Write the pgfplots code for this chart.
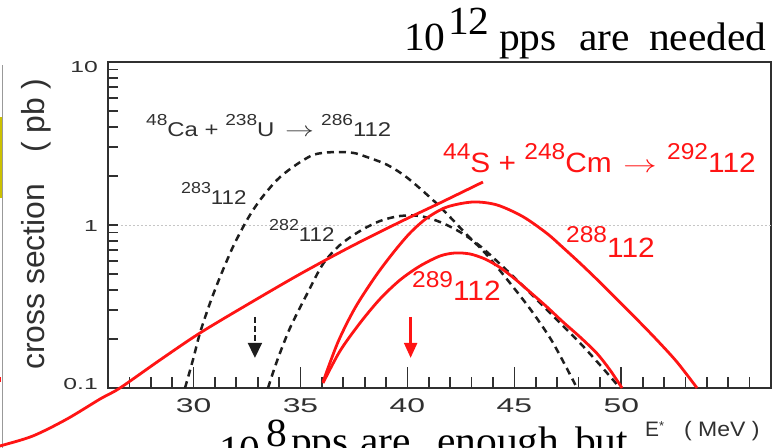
\documentclass[border=0pt]{standalone}
\usepackage{pgfplots}
\pgfplotsset{compat=1.18}
\usepackage{fontspec}
\usetikzlibrary{arrows.meta}
\setmainfont{Liberation Serif}
\newfontfamily\arial{Liberation Sans}
\definecolor{ink}{HTML}{303030}
\definecolor{dsh}{HTML}{1E1E1E}
\definecolor{lred}{HTML}{FF1414}
\newcommand{\fs}[1]{\fontsize{#1}{#1}\selectfont}
% black labels of the figure: wide sans
\newcommand{\wide}[1]{\scalebox{1.2}[1]{#1}}
\newcommand{\bsup}[1]{\raisebox{11bp}{\fs{16}#1}}
% red labels
\newcommand{\rw}[1]{\scalebox{1.07}[1]{#1}}
\newcommand{\rsup}[2]{\raisebox{#1}{\fs{23}#2}}

\begin{document}
\begin{tikzpicture}[x=1bp,y=1bp]
\path[use as bounding box] (0,0) rectangle (779,448);
\clip (0,0) rectangle (779,448);

% slide remnants at the left edge
\fill[yellow!55!olive] (0,250) rectangle (2,331);
\draw[gray!80, line width=0.8bp] (2.6,0) -- (2.6,383);
\fill[lred] (0,66) rectangle (1.2,71);

% frame and y ticks
\begin{axis}[
  at={(108bp,60bp)}, anchor=south west,
  scale only axis, width=663bp, height=326bp,
  xmin=26, xmax=57, ymode=log, ymin=0.1, ymax=10,
  axis line style={ink, line width=2.3bp},
  tick align=inside,
  xtick=\empty,
  ytick pos=left,
  ytick={0.1,1,10},
  yticklabels={\raisebox{-2bp}{\scalebox{1.55}[1]{0.1}},
               \raisebox{-7bp}{\scalebox{1.55}[1]{1}},
               \raisebox{-11bp}{\scalebox{1.55}[1]{10}}},
  minor ytick={0.2,0.3,0.4,0.5,0.6,0.7,0.8,0.9,2,3,4,5,6,7,8,9},
  major tick length=10bp, minor tick length=10bp,
  every tick/.style={ink, line width=1.7bp},
  yticklabel style={anchor=base east, inner sep=0pt, xshift=-10bp,
                    text=ink, font=\arial\fs{16}},
]
\end{axis}

% curves and x ticks
\begin{axis}[
  at={(108bp,60bp)}, anchor=south west,
  scale only axis, width=663bp, height=326bp,
  xmin=26, xmax=57, ymode=log, ymin=0.1, ymax=10,
  clip=false,
  axis line style={ink, line width=2.3bp},
  tick align=inside,
  ytick=\empty,
  xtick pos=left,
  xtick={30,35,40,45,50},
  xticklabels={\scalebox{1.6}[1]{30},\scalebox{1.6}[1]{35},\scalebox{1.6}[1]{40},
               \scalebox{1.6}[1]{45},\scalebox{1.6}[1]{50}},
  minor xtick={27,28,29,31,32,33,34,36,37,38,39,41,42,43,44,46,47,48,49,51,52,53,54,55,56},
  major tick length=21bp, minor tick length=11bp,
  every tick/.style={ink, line width=1.7bp},
  xticklabel style={anchor=center, yshift=-18bp, text=ink, font=\arial\fs{20}},
]
% 1 pb guide
\addplot[gray!45, line width=0.8bp, dash pattern=on 2bp off 2bp]
  coordinates {(26.6,1) (57,1)};

% 48Ca + 238U, 3n channel (283112)
\addplot[dsh, line width=2.5bp, dash pattern=on 7bp off 5bp, smooth] coordinates {
 (29.60,0.1) (29.97,0.1485) (30.30,0.2175) (30.77,0.332) (31.24,0.480)
 (31.84,0.733) (32.50,1.074) (33.11,1.423) (33.90,1.888) (34.65,2.27)
 (35.59,2.69) (36.52,2.80) (37.46,2.77) (38.11,2.61) (39.05,2.34)
 (39.98,1.955) (41.20,1.42) (41.99,1.12) (42.79,0.868) (43.72,0.654)
 (44.94,0.417) (45.87,0.289) (46.81,0.189) (47.93,0.1)};

% 48Ca + 238U, 4n channel (282112)
\addplot[dsh, line width=2.5bp, dash pattern=on 7bp off 5bp, smooth] coordinates {
 (33.481,0.1) (33.902,0.1464) (34.510,0.2334) (35.305,0.3773) (36.053,0.5766)
 (36.848,0.7540) (37.783,0.9188) (38.718,1.0581) (39.653,1.1355) (40.588,1.1355)
 (41.523,1.0433) (42.459,0.9060) (43.394,0.7434) (44.329,0.5766) (45.264,0.4407)
 (46.199,0.3323) (47.134,0.2505) (48.070,0.1888) (49.005,0.1384) (49.940,0.1)};

% 44S + 248Cm capture
\addplot[lred, line width=2.8bp, smooth] coordinates {
 (20.01,0.0410) (20.95,0.0441) (22.49,0.0508) (24.08,0.0645) (25.63,0.0856)
 (26.56,0.1) (28.43,0.1485) (30.30,0.2175) (32.64,0.332) (34.98,0.500)
 (37.32,0.733) (39.65,1.043) (41.52,1.365) (43.53,1.835)};

% 44S + 248Cm, 288112
\addplot[lred, line width=2.8bp, smooth] coordinates {
 (36.053,0.1089) (36.754,0.1915) (37.549,0.3096) (38.484,0.4797) (39.326,0.6734)
 (40.121,0.8930) (40.916,1.104) (41.851,1.290) (43.067,1.384) (44.189,1.327)
 (45.405,1.124) (46.527,0.887) (47.275,0.7265) (48.070,0.5831) (48.865,0.4631)
 (49.800,0.3492) (50.735,0.2633) (51.670,0.1967) (52.605,0.1442) (53.540,0.1)};

% 44S + 248Cm, 289112
\addplot[lred, line width=2.8bp, smooth] coordinates {
 (36.053,0.1073) (36.848,0.1687) (37.783,0.2505) (38.718,0.3516) (39.653,0.4598)
 (40.588,0.5604) (41.523,0.6454) (42.225,0.6734) (42.926,0.6640) (43.627,0.6185)
 (44.329,0.5486) (45.030,0.4664) (45.731,0.3882) (46.526,0.3140) (47.275,0.2541)
 (48.070,0.2055) (48.865,0.1628) (49.473,0.1289) (50.034,0.1)};

% optimum energies
\addplot[dsh, line width=2bp, dash pattern=on 6bp off 3bp,
  -{Triangle[width=14bp,length=15bp]}] coordinates {(32.87,0.273) (32.87,0.153)};
\addplot[lred, line width=2.3bp,
  -{Triangle[width=13bp,length=15bp]}] coordinates {(40.15,0.273) (40.15,0.153)};
\end{axis}

% axis titles
\node[rotate=90, anchor=base west, inner sep=0pt, text=ink, font=\arial\fs{32}]
  at (44,78) {cross section};
\node[rotate=90, anchor=base west, inner sep=0pt, text=ink, font=\arial\fs{32}]
  at (44,295) {( pb )};
\node[anchor=base west, inner sep=0pt, text=ink, font=\arial\fs{21}]
  at (645,11) {E\raisebox{6bp}{\fs{13}*}};
\node[anchor=base west, inner sep=0pt, text=ink, font=\arial\fs{21}]
  at (684,11) {\scalebox{1.1}[1]{( MeV )}};

% reaction labels
\begin{scope}[every node/.style={anchor=base west, inner sep=0pt, text=ink, font=\arial\fs{20}}]
\node at (146,311) {\wide{\bsup{48}Ca + \bsup{238}U}};
\node at (285,311) {\scalebox{1.4}[1]{$\rightarrow$}};
\node at (321,311) {\wide{\bsup{286}112}};
\node at (181,243) {\scalebox{1.12}[1]{\bsup{283}112}};
\node at (269,206) {\scalebox{1.12}[1]{\bsup{282}112}};
\end{scope}
\begin{scope}[every node/.style={anchor=base west, inner sep=0pt, text=lred, font=\arial\fs{28}}]
\node at (443,275) {\rw{\rsup{13bp}{44}S + \rsup{13bp}{248}Cm}};
\node at (623,275) {\scalebox{1.36}[1]{$\rightarrow$}};
\node at (667,275) {\rw{\rsup{13bp}{292}112}};
\node at (566,190) {\rw{\rsup{15bp}{288}112}};
\node at (412,147) {\rw{\rsup{13bp}{289}112}};
\end{scope}

% slide captions
\begin{scope}[every node/.style={anchor=base west, inner sep=0pt, text=black, font=\fs{40}}]
\node at (404,397) {\scalebox{1.04}[1]{10}};
\node at (448,413) {\scalebox{1.04}[1]{12}};
\node at (499,397) {\scalebox{1.04}[1]{pps}};
\node at (579,397) {\scalebox{1.04}[1]{are}};
\node at (649,397) {\scalebox{1.04}[1]{needed}};
\node at (219,-16) {\scalebox{1.04}[1]{10}};
\node at (266,1) {\scalebox{1.04}[1]{8}};
\node at (291,-7) {\scalebox{1.04}[1]{pps}};
\node at (360,-7) {\scalebox{1.04}[1]{are}};
\node at (437,-7) {\scalebox{1.04}[1]{enough}};
\node at (575,-7) {\scalebox{1.04}[1]{but}};
\end{scope}
\end{tikzpicture}
\end{document}
